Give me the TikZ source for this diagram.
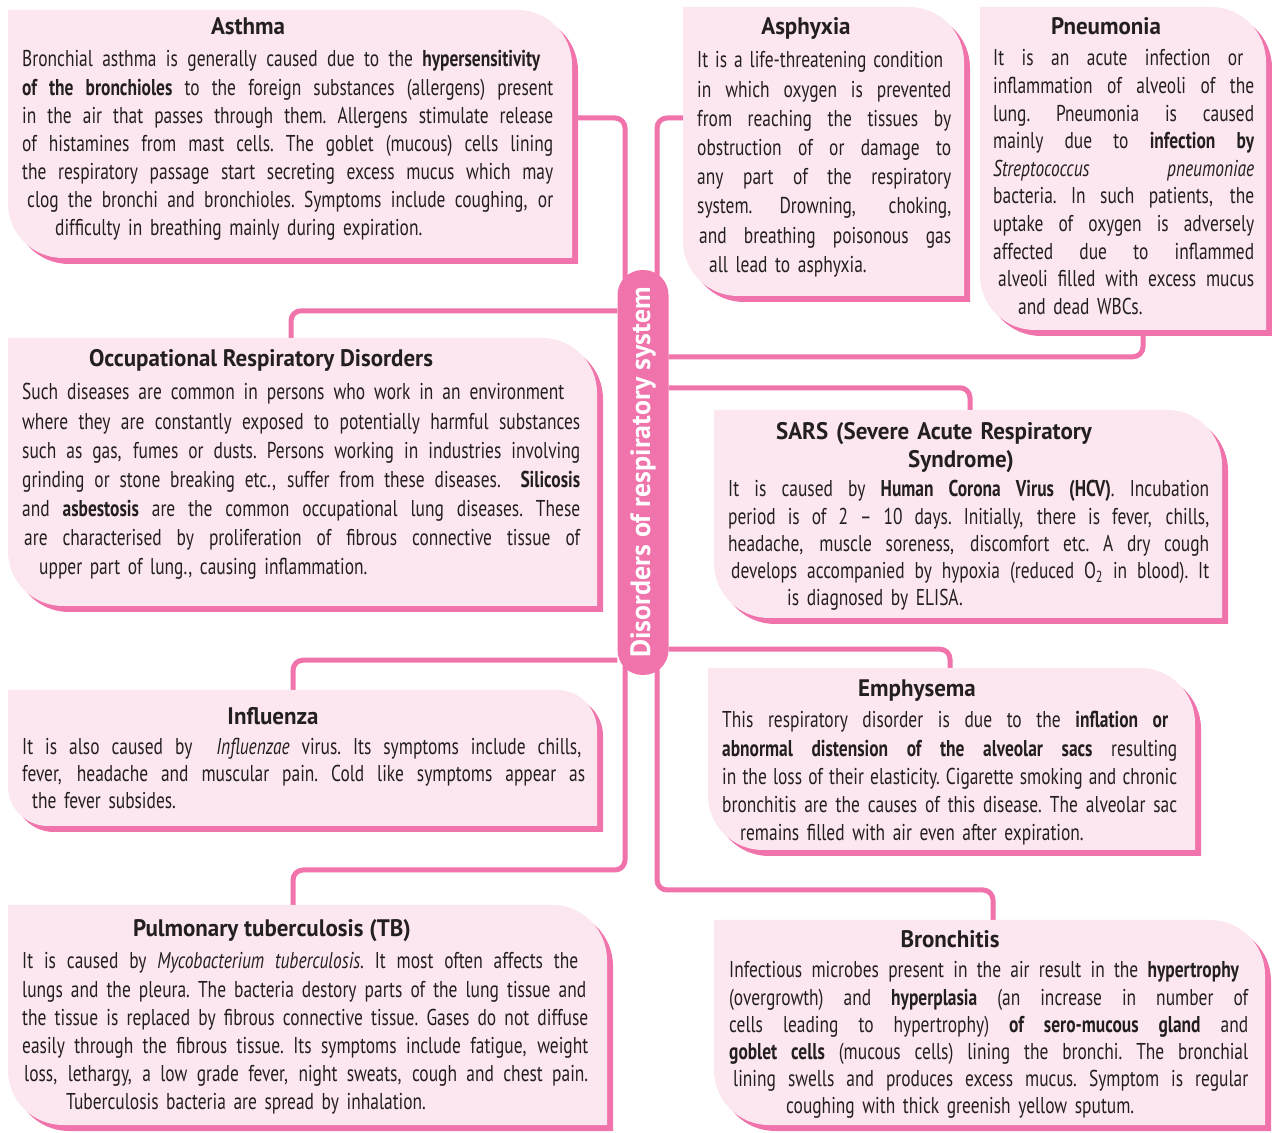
\documentclass[tikz,border=0pt]{standalone}
\usepackage{fontspec}
\usepackage{graphicx}
\setmainfont{PT Sans}[FakeStretch=0.76]
\newfontfamily\headfont{PT Sans}[FakeStretch=0.96]
\newfontfamily\hubfont{PT Sans}
\usepackage{tikz}
\usetikzlibrary{shadows,backgrounds}
\definecolor{pinkdeep}{HTML}{F073AB}
\definecolor{pinkpale}{HTML}{FCE6EF}
\definecolor{ink}{HTML}{231F20}
% one justified line, stretched to the given width
\newcommand{\jl}[2][\hsize]{\makebox[#1][s]{%
  \spaceskip=\fontdimen2\font plus 1fil minus .35\fontdimen2\font
  \xspaceskip=\spaceskip #2}}
% leaf shaped panel behind a slot node
\newcommand{\leafpath}[2][55bp]{%
  \fill[leaf] (#2.north west) -- ([xshift=-#1]#2.north east)
    arc[start angle=90,end angle=0,radius=#1] -- (#2.south east)
    -- ([xshift=#1]#2.south west) arc[start angle=270,end angle=180,radius=#1] -- cycle;}

\begin{document}
\begin{tikzpicture}[x=1bp,y=1bp,
    leaf/.style={fill=pinkpale,
                 drop shadow={shadow xshift=6bp, shadow yshift=-6bp, fill=pinkdeep, opacity=1}},
    slot/.style={anchor=north west, inner sep=0, outer sep=0},
    hub/.style={fill=pinkdeep, rounded corners=25bp, minimum width=51bp, minimum height=405bp,
                inner sep=0, text=white, font=\hubfont\bfseries\fontsize{28}{32}\selectfont},
    head/.style={anchor=base, inner sep=0, text=ink, font=\headfont\bfseries\fontsize{24}{28}\selectfont},
    body/.style={anchor=base west, inner sep=0, align=left, text=ink,
                 font=\fontsize{23}{#1}\selectfont},
    body/.default=28.2,
    link/.style={draw=pinkdeep, line width=5bp, rounded corners=10bp},
]
\useasboundingbox (0,0) rectangle (1272,1133);

% panels
\node[slot, minimum width=564bp, minimum height=248bp] (asthma) at (8,1123) {};
\node[slot, minimum width=281bp, minimum height=289bp] (asphyxia) at (683,1126) {};
\node[slot, minimum width=286bp, minimum height=323bp] (pneumonia) at (980,1126) {};
\node[slot, minimum width=589bp, minimum height=268bp] (occup) at (8,795) {};
\node[slot, minimum width=508bp, minimum height=208bp] (sars) at (714,723) {};
\node[slot, minimum width=589bp, minimum height=136bp] (influenza) at (8,443) {};
\node[slot, minimum width=487bp, minimum height=182bp] (emphysema) at (708,465) {};
\node[slot, minimum width=599bp, minimum height=220bp] (pulmonary) at (8,228) {};
\node[slot, minimum width=551bp, minimum height=205bp] (bronchitis) at (714,213) {};

\leafpath{asthma}
\leafpath{asphyxia}
\leafpath{pneumonia}
\leafpath{occup}
\leafpath{sars}
\leafpath[40bp]{influenza}
\leafpath{emphysema}
\leafpath{pulmonary}
\leafpath{bronchitis}

\node[hub] (hub) at (643,660.5) {\rotatebox{90}{Disorders of respiratory system}};

\coordinate (ltrunk) at (625,263);
\coordinate (rtrunk) at (657,243);

\begin{scope}[on background layer]
\fill[white] (0,0) rectangle (1272,1133);
\draw[link] ([yshift=16bp]asthma.east) -| (ltrunk) -| ([xshift=-14.5bp]pulmonary.north);
\draw[link] ([yshift=-41bp]hub.north west) -| ([xshift=-11.5bp]occup.north);
\draw[link] ([yshift=15bp]hub.south west) -| ([xshift=-9.5bp]influenza.north);
\draw[link] ([yshift=33.5bp]asphyxia.west) -| (rtrunk) -| ([xshift=3.5bp]bronchitis.north);
\draw[link] ([yshift=-87bp]hub.north east) -| ([xshift=20bp]pneumonia.south);
\draw[link] ([yshift=-118bp]hub.north east) -| ([xshift=2bp]sars.north);
\draw[link] ([yshift=26bp]hub.south east) -| ([xshift=-1.5bp]emphysema.north);
\end{scope}

% Asthma
\node[head] (asthma-h) at (248,1098.5) {Asthma};
\node[body, text width=531bp] (asthma-b) at (22,1066) {%
\jl[518bp]{Bronchial asthma is generally caused due to the \textbf{hypersensitivity}}\\
\jl{\textbf{of the bronchioles} to the foreign substances (allergens) present}\\
\jl{in the air that passes through them. Allergens stimulate release}\\
\jl{of histamines from mast cells. The goblet (mucous) cells lining}\\
\jl{the respiratory passage start secreting excess mucus which may}\\
\hspace*{5bp}\jl[526bp]{clog the bronchi and bronchioles. Symptoms include coughing, or}\\
\hspace*{33bp}difficulty in breathing mainly during expiration.};

% Asphyxia
\node[head] (asphyxia-h) at (806,1098.5) {Asphyxia};
\node[body=29.3, text width=254bp] (asphyxia-b) at (697,1065) {%
\jl[246bp]{It is a life-threatening condition}\\
\jl{in which oxygen is prevented}\\
\jl{from reaching the tissues by}\\
\jl{obstruction of or damage to}\\
\jl{any part of the respiratory}\\
\jl{system. Drowning, choking,}\\
\hspace*{2bp}\jl[252bp]{and breathing poisonous gas}\\
\hspace*{12bp}all lead to asphyxia.};

% Pneumonia
\node[head] (pneumonia-h) at (1106,1098.5) {Pneumonia};
\node[body=27.7, text width=261bp] (pneumonia-b) at (993,1067) {%
\jl[250bp]{It is an acute infection or}\\
\jl{inflammation of alveoli of the}\\
\jl{lung. Pneumonia is caused}\\
\jl{mainly due to \textbf{infection by}}\\
\jl{\textit{Streptococcus} \textit{pneumoniae}}\\
\jl{bacteria. In such patients, the}\\
\jl{uptake of oxygen is adversely}\\
\jl{affected due to inflammed}\\
\hspace*{5bp}\jl[256bp]{alveoli filled with excess mucus}\\
\hspace*{25bp}and dead WBCs.};

% Occupational
\node[head] (occup-h) at (261,766.5) {Occupational Respiratory Disorders};
\node[body=29.2, text width=558bp] (occup-b) at (22,733) {%
\jl[542bp]{Such diseases are common in persons who work in an environment}\\
\jl{where they are constantly exposed to potentially harmful substances}\\
\jl{such as gas, fumes or dusts. Persons working in industries involving}\\
\jl{grinding or stone breaking etc., suffer from these diseases.\ \ \textbf{Silicosis}}\\
\jl{and \textbf{asbestosis} are the common occupational lung diseases. These}\\
\hspace*{2bp}\jl[556bp]{are characterised by proliferation of fibrous connective tissue of}\\
\hspace*{17bp}upper part of lung., causing inflammation.};

% SARS
\node[head, text width=330bp, align=center] (sars-h) at (934,693.5)
  {SARS (Severe Acute Respiratory\\\hspace*{54bp}Syndrome)};
\node[body=27.3, text width=481bp] (sars-b) at (728,636) {%
\jl{It is caused by \textbf{Human Corona Virus (HCV)}. Incubation}\\
\jl{period is of 2 -- 10 days. Initially, there is fever, chills,}\\
\jl{headache, muscle soreness, discomfort etc. A dry cough}\\
\hspace*{3bp}\jl[478bp]{develops accompanied by hypoxia (reduced O\textsubscript{2} in blood). It}\\
\hspace*{59bp}is diagnosed by ELISA.};

% Influenza
\node[head] (influenza-h) at (273,408.5) {Influenza};
\node[body=27, text width=563bp] (influenza-b) at (22,378) {%
\jl[559bp]{It is also caused by\ \ \textit{Influenzae} virus. Its symptoms include chills,}\\
\jl{fever, headache and muscular pain. Cold like symptoms appear as}\\
\hspace*{10bp}the fever subsides.};

% Emphysema
\node[head] (emphysema-h) at (917,436.5) {Emphysema};
\node[body=28.2, text width=455bp] (emphysema-b) at (722,405) {%
\jl[446bp]{This respiratory disorder is due to the \textbf{inflation or}}\\
\jl{\textbf{abnormal distension of the alveolar sacs} resulting}\\
\jl{in the loss of their elasticity. Cigarette smoking and chronic}\\
\jl{bronchitis are the causes of this disease. The alveolar sac}\\
\hspace*{18bp}remains filled with air even after expiration.};

% Pulmonary TB
\node[head] (pulmonary-h) at (272,196.5) {Pulmonary tuberculosis (TB)};
\node[body=28.2, text width=566bp] (pulmonary-b) at (22,164) {%
\jl[556bp]{It is caused by \textit{Mycobacterium tuberculosis}. It most often affects the}\\
\jl[564bp]{lungs and the pleura. The bacteria destory parts of the lung tissue and}\\
\jl{the tissue is replaced by fibrous connective tissue. Gases do not diffuse}\\
\jl{easily through the fibrous tissue. Its symptoms include fatigue, weight}\\
\hspace*{2bp}\jl[564bp]{loss, lethargy, a low grade fever, night sweats, cough and chest pain.}\\
\hspace*{44bp}Tuberculosis bacteria are spread by inhalation.};

% Bronchitis
\node[head] (bronchitis-h) at (950,185.5) {Bronchitis};
\node[body=27.2, text width=519bp] (bronchitis-b) at (729,155) {%
\jl[510bp]{Infectious microbes present in the air result in the \textbf{hypertrophy}}\\
\jl{(overgrowth) and \textbf{hyperplasia} (an increase in number of}\\
\jl{cells leading to hypertrophy) \textbf{of sero-mucous gland} and}\\
\jl{\textbf{goblet cells} (mucous cells) lining the bronchi. The bronchial}\\
\hspace*{4bp}\jl[515bp]{lining swells and produces excess mucus. Symptom is regular}\\
\hspace*{57bp}coughing with thick greenish yellow sputum.};

\end{tikzpicture}
\end{document}
